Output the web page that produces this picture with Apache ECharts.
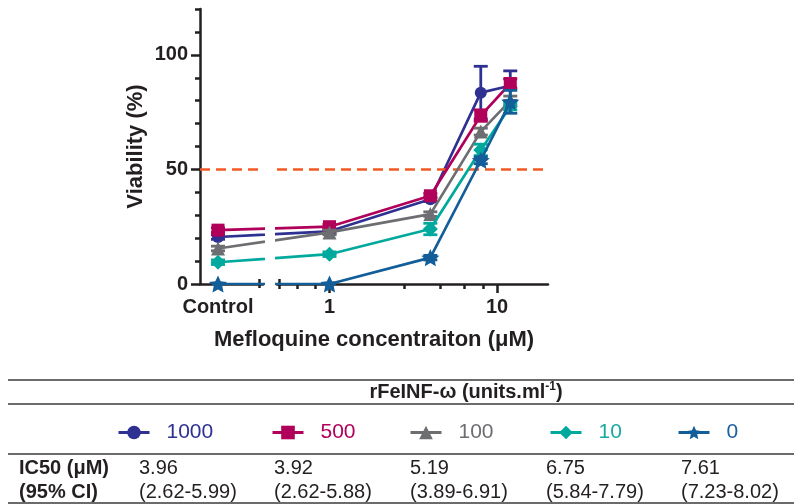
<!DOCTYPE html>
<html><head><meta charset="utf-8">
<script src="https://cdn.jsdelivr.net/npm/echarts@6/dist/echarts.min.js"></script>
<style>html,body{margin:0;padding:0;background:#fff}#c{width:794px;height:504px}</style>
</head><body><div id="c"></div>
<script>
// ---------------- data ----------------
const doses = ['Control', 1, 4, 8, 12];           // Mefloquine concentration (uM)
const groups = ['1000', '500', '100', '10', '0']; // rFeINF-w units/ml
const v1000 = [20.5, 23, 37, 83.5, 86.5];
const v500  = [23.5, 25, 38.5, 73.5, 87.5];
const v100  = [15.5, 22.5, 30.5, 66.5, 80];
const v10   = [9.5, 13, 24, 58.5, 77.5];
const v0    = [0, 0, 11.5, 54, 79.5];
const sd1000 = [1, 1, 1, 11.5, 6.5];
const sd500  = [1, 1, 1, 2.5, 2];
const sd100  = [1, 1, 1, 1.5, 2];
const sd10   = [1, 1, 2.5, 2.5, 1.5];
const sd0    = [0, 0, 1, 1.5, 5];
const threshold = 50;
const yLabelTicks = [0, 50, 100];
const xLabelTicks = [1, 10];
const xMinorTicks = [0.64, 0.82, 2.8, 4.6, 6.35, 8.25];
const ic50 = ['3.96', '3.92', '5.19', '6.75', '7.61'];
const ci95 = ['(2.62-5.99)', '(2.62-5.88)', '(3.89-6.91)', '(5.84-7.79)', '(7.23-8.02)'];

// ---------------- layout / style ----------------
const values = [v1000, v500, v100, v10, v0];
const sds = [sd1000, sd500, sd100, sd10, sd0];
const colors = ['#2e3192', '#b0005a', '#6d6e71', '#00a99d', '#135e99'];
const textColors = ['#2e3192', '#b0005a', '#6d6e71', '#1aa9a0', '#1f5fa0'];
const STAR = 'path://M100,0 L128.2,61.2 L195.1,69.1 L145.6,114.8 L158.8,180.9 L100,148 L41.2,180.9 L54.4,114.8 L4.9,69.1 L71.8,61.2 Z';
const symbols = ['circle', 'rect', 'triangle', 'diamond', STAR];
const symbolSizes = [12, 13, 14, 15, 18];
const INK = '#231f20';
const FONT = 'Liberation Sans';

const PX_PER_DECADE = 167.5, X_ONE = 329.5;
const toLog = px => (px - X_ONE) / PX_PER_DECADE;
const controlAxisPos = Math.pow(10, toLog(218));
const leftBreakTick = toLog(259), rightBreakTick = toLog(279);
const xv = d => Math.log10(d === 'Control' ? controlAxisPos : d);
const L = [toLog(200), toLog(263)];
const R = [toLog(277), toLog(548)];
const GT = 9, GH = 275;

const axisLineStyle = {color: INK, width: 2.5};
const tickStyle = {color: INK, width: 2.5};
const labelFont = {fontFamily: FONT, fontWeight: 'bold', fontSize: 20, color: INK};

const xAxes = [
  { gridIndex: 0, type: 'value', position: 'bottom', min: L[0], max: L[1],
    axisLine: {show: true, onZero: false, lineStyle: axisLineStyle},
    axisTick: {show: true, customValues: [leftBreakTick], length: 4, lineStyle: tickStyle},
    axisLabel: Object.assign({show: true, customValues: [xv('Control')], formatter: () => 'Control', margin: 13}, labelFont),
    splitLine: {show: false} },
  { gridIndex: 0, type: 'value', position: 'bottom', min: L[0], max: L[1],
    axisLine: {show: false}, axisLabel: {show: false}, splitLine: {show: false},
    axisTick: {show: true, inside: true, customValues: [leftBreakTick], length: 5, lineStyle: tickStyle} },
  { gridIndex: 1, type: 'value', position: 'bottom', min: R[0], max: R[1],
    axisLine: {show: true, onZero: false, lineStyle: axisLineStyle},
    axisTick: {show: true, customValues: [rightBreakTick].concat(xMinorTicks.map(Math.log10)), length: 5, lineStyle: tickStyle},
    axisLabel: {show: false}, splitLine: {show: false} },
  { gridIndex: 1, type: 'value', position: 'bottom', min: R[0], max: R[1],
    axisLine: {show: false}, splitLine: {show: false},
    axisTick: {show: true, customValues: xLabelTicks.map(Math.log10), length: 9, lineStyle: tickStyle},
    axisLabel: Object.assign({show: true, customValues: xLabelTicks.map(Math.log10),
      formatter: v => String(Math.round(Math.pow(10, v))), margin: 13}, labelFont) },
  { gridIndex: 1, type: 'value', position: 'bottom', min: R[0], max: R[1],
    axisLine: {show: false}, axisLabel: {show: false}, splitLine: {show: false},
    axisTick: {show: true, inside: true, customValues: [rightBreakTick], length: 5, lineStyle: tickStyle} }
];

const yAxes = [
  { gridIndex: 0, type: 'value', position: 'left', min: 0, max: 120, interval: 10,
    axisLine: {show: true, onZero: false, lineStyle: axisLineStyle},
    axisTick: {show: true, length: 5, lineStyle: tickStyle},
    axisLabel: Object.assign({show: true, customValues: yLabelTicks, margin: 12}, labelFont),
    splitLine: {show: false},
    name: 'Viability (%)', nameLocation: 'middle', nameGap: 53,
    nameTextStyle: {fontFamily: FONT, fontWeight: 'bold', fontSize: 22, color: INK} },
  { gridIndex: 0, type: 'value', position: 'left', min: 0, max: 120,
    axisLine: {show: false}, axisLabel: {show: false}, splitLine: {show: false},
    axisTick: {show: true, customValues: yLabelTicks, length: 9, lineStyle: tickStyle} },
  { gridIndex: 1, type: 'value', show: false, min: 0, max: 120, splitLine: {show: false} }
];

const series = [];
[0, 1].forEach(k => {
  const xi = k === 0 ? 0 : 2, yi = k === 0 ? 0 : 2;
  groups.forEach((g, gi) => {
    const errData = [];
    doses.forEach((d, i) => { if (sds[gi][i] > 0) errData.push([xv(d), values[gi][i] - sds[gi][i], values[gi][i] + sds[gi][i]]); });
    series.push({
      type: 'custom', name: g + ' err', xAxisIndex: xi, yAxisIndex: yi, clip: true, z: 2 + gi * 2,
      encode: {x: 0, y: [1, 2]}, data: errData, silent: true,
      renderItem: (params, api) => {
        const x = api.value(0);
        const lo = api.coord([x, api.value(1)]), hi = api.coord([x, api.value(2)]);
        const hw = 7, st = {stroke: colors[gi], lineWidth: 2.8};
        return {type: 'group', children: [
          {type: 'line', shape: {x1: lo[0], y1: lo[1], x2: hi[0], y2: hi[1]}, style: st},
          {type: 'line', shape: {x1: hi[0] - hw, y1: hi[1], x2: hi[0] + hw, y2: hi[1]}, style: st},
          {type: 'line', shape: {x1: lo[0] - hw, y1: lo[1], x2: lo[0] + hw, y2: lo[1]}, style: st}
        ]};
      }
    });
    const s = {
      type: 'line', name: g, xAxisIndex: xi, yAxisIndex: yi, clip: true, z: 3 + gi * 2,
      data: doses.map((d, i) => [xv(d), values[gi][i]]),
      symbol: symbols[gi], symbolSize: symbolSizes[gi], symbolKeepAspect: true, showAllSymbol: true,
      itemStyle: {color: colors[gi]}, lineStyle: {color: colors[gi], width: 2.7},
      emphasis: {disabled: true}
    };
    if (gi === 0) {
      s.markLine = {silent: true, symbol: ['none', 'none'], label: {show: false}, animation: false,
        lineStyle: {color: '#f15a24', type: [10, 6], width: 2.5}, data: [{yAxis: threshold}]};
    }
    series.push(s);
  });
});

const legendLefts = [117, 271, 409, 549, 677];
const legends = groups.map((g, gi) => ({
  data: [{name: g, textStyle: {color: textColors[gi]}}],
  left: legendLefts[gi], top: 422, padding: 0, itemWidth: 31, itemHeight: 17,
  selectedMode: false,
  lineStyle: {width: 3},
  textStyle: {fontFamily: FONT, fontSize: 21, color: textColors[gi], padding: [0, 0, 0, 12]}
}));

const graphics = [];
[380, 404, 454, 503].forEach(y => graphics.push({type: 'line', silent: true,
  shape: {x1: 8, y1: y, x2: 794, y2: y}, style: {stroke: '#3a3a3a', lineWidth: 1.5}}));
graphics.push({type: 'text', x: 374, y: 340, silent: true,
  style: {text: 'Mefloquine concentraiton (\u03bcM)', fill: INK, font: 'bold 22px "' + FONT + '"', align: 'center', verticalAlign: 'middle'}});
graphics.push({type: 'text', x: 466, y: 392, silent: true,
  style: {text: '{b|rFeINF-\u03c9 (units.ml}{s|-1}{b|)}', align: 'center', verticalAlign: 'middle',
    rich: {b: {fontFamily: FONT, fontWeight: 'bold', fontSize: 20, fill: INK, color: INK, lineHeight: 22},
           s: {fontFamily: FONT, fontWeight: 'bold', fontSize: 12, fill: INK, color: INK, verticalAlign: 'top', lineHeight: 22}}}});
graphics.push({type: 'text', x: 19, y: 468, silent: true,
  style: {text: 'IC50 (\u03bcM)', fill: INK, font: 'bold 20px "' + FONT + '"', verticalAlign: 'middle'}});
graphics.push({type: 'text', x: 19, y: 492, silent: true,
  style: {text: '(95% CI)', fill: INK, font: 'bold 20px "' + FONT + '"', verticalAlign: 'middle'}});
const colLefts = [139, 274, 410, 546, 681];
ic50.forEach((t, i) => {
  graphics.push({type: 'text', x: colLefts[i], y: 468, silent: true,
    style: {text: t, fill: INK, font: '20px "' + FONT + '"', verticalAlign: 'middle'}});
  graphics.push({type: 'text', x: colLefts[i], y: 492, silent: true,
    style: {text: ci95[i], fill: INK, font: '20px "' + FONT + '"', verticalAlign: 'middle'}});
});

const chart = echarts.init(document.getElementById('c'), null, {width: 794, height: 504});
chart.setOption({
  animation: false,
  backgroundColor: '#fff',
  textStyle: {fontFamily: FONT},
  grid: [
    {left: 200, top: GT, width: 63, height: GH, containLabel: false, outerBoundsMode: 'none'},
    {left: 277, top: GT, width: 271, height: GH, containLabel: false, outerBoundsMode: 'none'}
  ],
  xAxis: xAxes,
  yAxis: yAxes,
  legend: legends,
  series: series,
  graphic: {elements: graphics}
});
</script></body></html>
